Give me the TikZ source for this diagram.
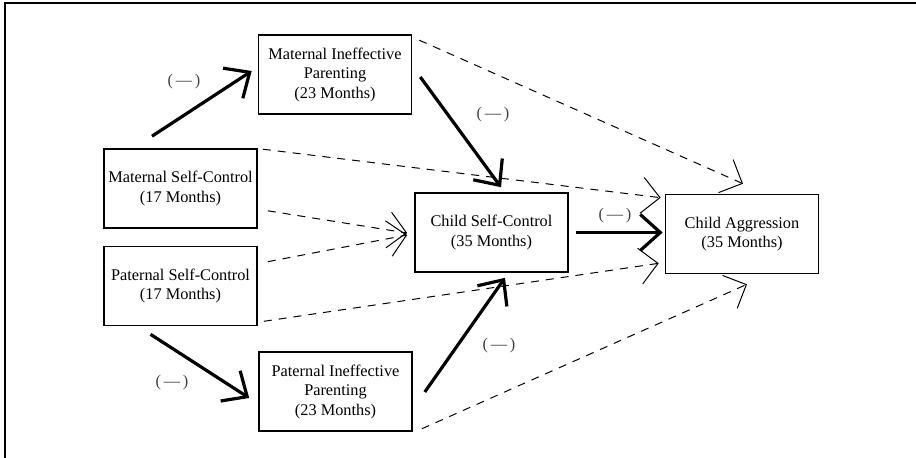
\documentclass[tikz,border=0pt]{standalone}
\usepackage{fontspec}
\setmainfont{Liberation Serif}
\usetikzlibrary{arrows.meta}

\tikzset{
    box/.style={draw, line width=1.6pt, minimum width=153pt, minimum height=79pt,
        inner sep=0pt, align=center, font=\fontsize{16.3}{19.5}\selectfont},
    sigpath/.style={line width=3.2pt, -{Straight Barb[length=20pt,width=36pt]}},
    dashpath/.style={line width=1pt, dash pattern=on 8pt off 7pt,
        -{Straight Barb[length=18pt,width=36pt]}},
    sign/.style={text=black!75, font=\fontsize{16.3}{19}\selectfont},
}

\begin{document}
\begin{tikzpicture}[x=1pt,y=-1pt]

% Page size (pixel grid, y down)
\def\Wmax{916} % width
\def\Hmax{458} % height
\useasboundingbox (0,0) rectangle (\Wmax,\Hmax);

% Frame
\draw[line width=2pt] (5,\Hmax) -- (5,3) -- (\Wmax,3);

% Draw the boxes
\node[box] (mip) at (335,74.5) {Maternal Ineffective\\Parenting\\(23 Months)};
\node[box] (msc) at (180.5,188.5) {Maternal Self-Control\\(17 Months)};
\node[box] (psc) at (180.5,286) {Paternal Self-Control\\(17 Months)};
\node[box] (pip) at (335.5,391.5) {Paternal Ineffective\\Parenting\\(23 Months)};
\node[box] (csc) at (491.5,232.5) {Child Self-Control\\(35 Months)};
\node[box] (ca) at (742,234) {Child Aggression\\(35 Months)};

% Significant paths
\draw[sigpath] ([shift={(-28.5,-12)}]msc.north) -- ([shift={(-6,-3.5)}]mip.west);
\draw[sigpath] ([shift={(8,2.5)}]mip.east) -- ([shift={(9.5,-5)}]csc.north);
\draw[sigpath] ([shift={(-30,8)}]psc.south) -- ([shift={(-9,6.5)}]pip.west);
\draw[sigpath] ([shift={(12,0.5)}]pip.east) -- ([shift={(13.5,5)}]csc.south);
\draw[sigpath] ([shift={(7,0)}]csc.east) -- ([shift={(-2,-1.5)}]ca.west);

% Non-significant paths
\draw[dashpath] ([shift={(7,6)}]mip.north east) -- ([shift={(1,-10)}]ca.north);
\draw[dashpath] ([shift={(5,1)}]msc.north east) -- ([shift={(-4,4)}]ca.north west);
\draw[dashpath] ([shift={(10,-18)}]msc.south east) -- ([shift={(-7,0.5)}]csc.west);
\draw[dashpath] ([shift={(10,16)}]psc.north east) -- ([shift={(-7,2.5)}]csc.west);
\draw[dashpath] ([shift={(6,-5)}]psc.south east) -- ([shift={(-6,-11)}]ca.south west);
\draw[dashpath] ([shift={(9,-3)}]pip.south east) -- ([shift={(5,10)}]ca.south);

% Signs of the paths
\foreach \name/\x/\y in {signa/184/82, signb/493/115, signc/172/383, signd/499/346, signe/615/216} {
    \node[sign] (\name) at (\x,\y) {(\,—\,)};
}

\end{tikzpicture}
\end{document}
